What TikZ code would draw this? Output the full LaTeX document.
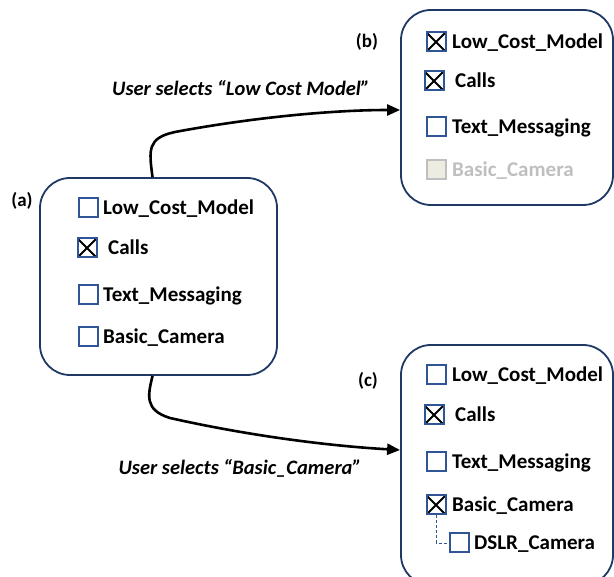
\documentclass[tikz,border=0pt]{standalone}
\usepackage{fontspec}
\setmainfont{Carlito}
\usetikzlibrary{arrows.meta}
\definecolor{panelblue}{RGB}{31,56,100}
\definecolor{boxblue}{RGB}{47,85,151}
\definecolor{offfill}{RGB}{238,236,225}
\definecolor{offgray}{RGB}{191,191,191}
\tikzset{
  panel/.style={draw=panelblue, line width=1.8pt, rounded corners=30pt, inner sep=0pt},
  cb/.style={draw=boxblue, line width=2pt, minimum size=19pt, inner sep=0pt},
  cbx/.style={cb, path picture={
      \draw[black, line width=2pt]
        (path picture bounding box.south west) -- (path picture bounding box.north east)
        (path picture bounding box.north west) -- (path picture bounding box.south east);}},
  cboff/.style={cb, draw=offgray, fill=offfill},
  item/.style={anchor=base west, inner sep=0pt, font=\bfseries\fontsize{21}{25}\selectfont},
  tag/.style={inner sep=0pt, font=\bfseries\fontsize{19}{23}\selectfont},
  elabel/.style={inner sep=0pt, font=\bfseries\itshape\fontsize{20.5}{24}\selectfont},
  flow/.style={line width=2.6pt, -{Triangle[length=13pt,width=11pt]}},
  tree/.style={boxblue, line width=0.9pt, dash pattern=on 3pt off 2pt}
}
\begin{document}
\begin{tikzpicture}[x=1pt, y=-1pt]
\useasboundingbox (0,0) rectangle (614,577);

% panels
\node[panel, minimum width=237pt, minimum height=197pt] (A) at (158.5,276.5) {};
\node[panel, minimum width=212pt, minimum height=195pt] (B) at (507,107.5) {};
\node[panel, minimum width=212pt, minimum height=240pt] (C) at (507,465) {};

% panel tags
\node[tag] (ta) at (22,201) {(a)};
\node[tag] (tb) at (367,42) {(b)};
\node[tag] (tc) at (368,381) {(c)};

% panel (a)
\node[cb]  (a1) at (88,208) {};
\node[item] (a1t) at (103,215) {Low\_Cost\_Model};
\node[cbx] (a2) at (87,248) {};
\node[item] (a2t) at (108,255) {Calls};
\node[cb]  (a3) at (88,295) {};
\node[item] (a3t) at (103,302) {Text\_Messaging};
\node[cb]  (a4) at (88,337) {};
\node[item] (a4t) at (103,344) {Basic\_Camera};

% panel (b)
\node[cbx] (b1) at (436,42) {};
\node[item] (b1t) at (452,49) {Low\_Cost\_Model};
\node[cbx] (b2) at (434,81) {};
\node[item] (b2t) at (455,88) {Calls};
\node[cb]  (b3) at (436,127) {};
\node[item] (b3t) at (452,134) {Text\_Messaging};
\node[cboff] (b4) at (436,170) {};
\node[item, text=offgray] (b4t) at (452,177) {Basic\_Camera};

% panel (c)
\node[cb]  (c1) at (436,375) {};
\node[item] (c1t) at (452,382) {Low\_Cost\_Model};
\node[cbx] (c2) at (434,415) {};
\node[item] (c2t) at (455,422) {Calls};
\node[cb]  (c3) at (436,462) {};
\node[item] (c3t) at (452,469) {Text\_Messaging};
\node[cbx] (c4) at (436,505) {};
\node[item] (c4t) at (452,512) {Basic\_Camera};
\node[cb]  (c5) at (459,543) {};
\node[item] (c5t) at (474,550) {DSLR\_Camera};
\draw[tree] (c4.south) |- (c5.west);

% transitions
\draw[flow] ([xshift=-6pt]A.north) .. controls (149,150) and (147,138) .. (175,132)
            .. controls (250,118) and (330,110) .. ([yshift=-2.5pt]B.west);
\draw[flow] ([xshift=-6pt]A.south) .. controls (148,395) and (144,410) .. (170,418)
            .. controls (250,436) and (330,446) .. ([yshift=15pt]C.west);

\node[elabel] (l1) at (241,88) {User selects “Low Cost Model”};
\node[elabel] (l2) at (240,468) {User selects “Basic\_Camera”};
\end{tikzpicture}
\end{document}
